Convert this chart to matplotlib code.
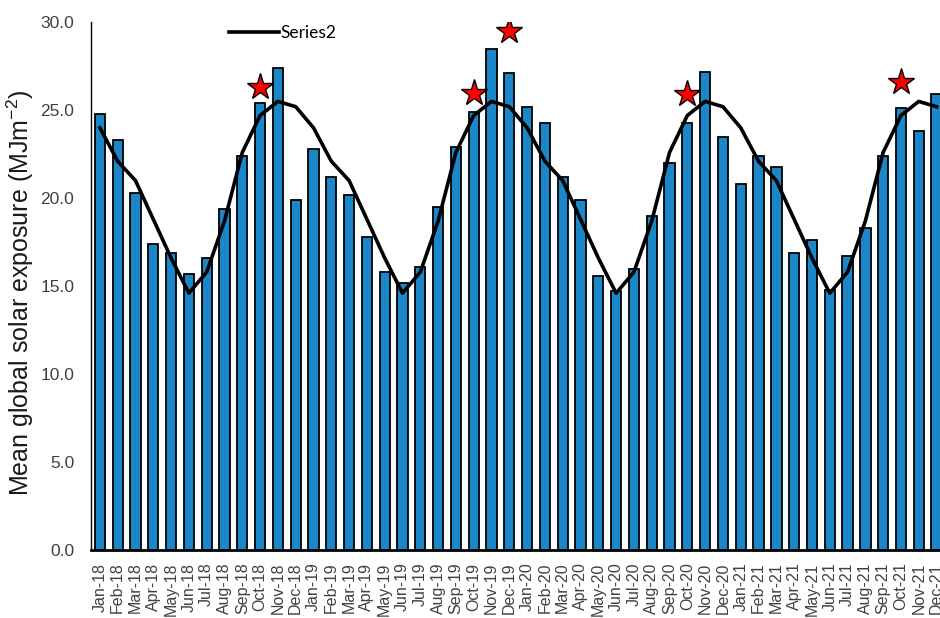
import matplotlib
matplotlib.use("Agg")
import matplotlib.pyplot as plt
import numpy as np

plt.rcParams["mathtext.fontset"] = "custom"
plt.rcParams["mathtext.rm"] = "Liberation Sans"
plt.rcParams["mathtext.it"] = "Liberation Sans:italic"
plt.rcParams["mathtext.bf"] = "Liberation Sans:bold"

months = ["Jan", "Feb", "Mar", "Apr", "May", "Jun", "Jul", "Aug", "Sep", "Oct", "Nov", "Dec"]
years = ["18", "19", "20", "21"]
labels = [f"{m}-{y}" for y in years for m in months]

monthly_exposure = [
    24.8, 23.3, 20.3, 17.4, 16.9, 15.7, 16.6, 19.4, 22.4, 25.4, 27.4, 19.9,
    22.8, 21.2, 20.2, 17.8, 15.8, 15.2, 16.1, 19.5, 22.9, 24.9, 28.5, 27.1,
    25.2, 24.3, 21.2, 19.9, 15.6, 14.7, 16.0, 19.0, 22.0, 24.3, 27.2, 23.5,
    20.8, 22.4, 21.8, 16.9, 17.6, 14.8, 16.7, 18.3, 22.4, 25.1, 23.8, 25.9,
]
long_term_mean = [24.0, 22.1, 21.0, 18.8, 16.6, 14.6, 15.8, 18.7, 22.6, 24.7, 25.5, 25.2]
series2 = long_term_mean * 4

star_labels = ["Oct-18", "Oct-19", "Dec-19", "Oct-20", "Oct-21"]
star_values = [26.3, 26.0, 29.5, 25.9, 26.6]

fig = plt.figure(figsize=(9.4, 6.18), dpi=100)
ax = fig.add_axes([0.0968, 0.110, 0.909, 0.854])

x = np.arange(len(labels))
ax.bar(x, monthly_exposure, width=0.58, color="#1B87C8", edgecolor="black", linewidth=1.3, zorder=2)
ax.plot(x, series2, color="black", linewidth=2.6, solid_joinstyle="round", label="Series2", zorder=3)
star_x = [labels.index(s) for s in star_labels]
ax.plot(star_x, star_values, linestyle="none", marker="*", markersize=20,
        markerfacecolor="red", markeredgecolor="black", markeredgewidth=1.0, zorder=4)

ax.set_xlim(-0.5, len(labels) - 0.5)
ax.set_ylim(0, 30)
ax.set_yticks(np.arange(0, 30.1, 5))
ax.set_yticklabels([f"{v:.1f}" for v in np.arange(0, 30.1, 5)], fontsize=12.5,
                   family="Liberation Sans", color="#404040")
ax.set_xticks(x)
ax.set_xticklabels(labels, rotation=90, fontsize=11.5, family="Liberation Sans", color="#404040")
ax.tick_params(axis="y", length=0, pad=12)
ax.tick_params(axis="x", length=0, pad=9)

for s in ["top", "right"]:
    ax.spines[s].set_visible(False)
ax.spines["left"].set_linewidth(1.0)
ax.spines["bottom"].set_linewidth(2.0)

ax.set_ylabel("Mean global solar exposure (MJm$^{-2}$)", fontsize=18, family="Liberation Sans",
              color="#1a1a1a")
ax.yaxis.set_label_coords(-0.064, 0.487)

leg = ax.legend(loc="upper left", bbox_to_anchor=(0.143, 1.025), frameon=False,
                prop={"family": "Lato", "size": 12.5}, handlelength=2.9, handletextpad=0.1)

fig.savefig("out.png", dpi=100)
